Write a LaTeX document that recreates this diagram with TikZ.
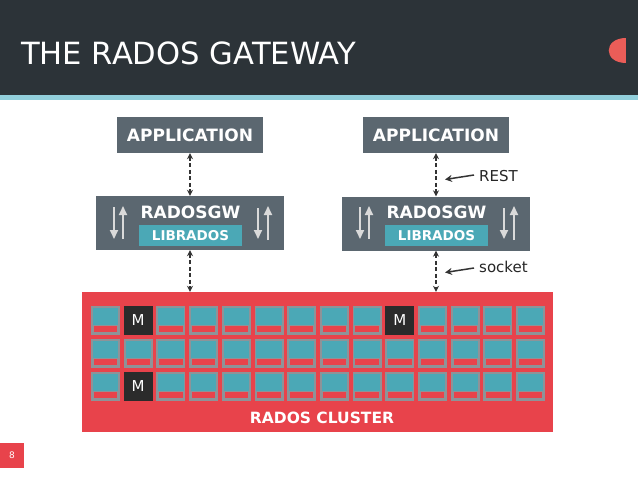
\documentclass[tikz,border=0pt]{standalone}
\usepackage{fontspec}
\setmainfont{DejaVu Sans}
\usetikzlibrary{arrows.meta}
\definecolor{hdr}{HTML}{2C3338}
\definecolor{stripe}{HTML}{92CFDB}
\definecolor{boxgray}{HTML}{5B6770}
\definecolor{teal}{HTML}{4BA8B6}
\definecolor{cred}{HTML}{E8434B}
\definecolor{cellgray}{HTML}{8E9398}
\definecolor{mdark}{HTML}{2B2B2B}
\definecolor{semi}{HTML}{EA5D58}
\definecolor{arrgray}{HTML}{DADADA}
\definecolor{dash}{HTML}{333333}
\tikzset{
  graybox/.style={draw=none, fill=boxgray, inner sep=0pt},
  libbox/.style={draw=none, fill=teal, inner sep=0pt, minimum width=103pt, minimum height=21pt, text=white, font=\fontsize{13.5}{14}\selectfont\bfseries},
  boldlabel/.style={text=white, font=\fontsize{17}{18}\selectfont\bfseries, inner sep=0pt},
  dasharrow/.style={draw=dash, line width=1.5pt, dash pattern=on 4pt off 2.5pt, {Stealth[length=6pt,width=6pt]}-{Stealth[length=6pt,width=6pt]}},
  notearrow/.style={draw=dash, line width=1.5pt, -{Stealth[length=7pt,width=7pt]}},
  inarrow/.style={draw=arrgray, line width=2pt, -{Triangle[length=9pt,width=8pt]}},
  notetext/.style={text=black!85, font=\fontsize{15}{16}\selectfont, anchor=west, inner sep=0pt},
}
\begin{document}
\begin{tikzpicture}[x=1pt,y=-1pt]
\useasboundingbox (0,0) rectangle (638,479);
\fill[white] (0,0) rectangle (638,479);
% header
\fill[hdr] (0,0) rectangle (638,95);
\fill[stripe] (0,95) rectangle (638,100);
\node[anchor=base west, inner sep=0pt, text=white, font=\fontsize{30.6}{32}\selectfont] (title) at (21,64.3) {THE RADOS GATEWAY};
\fill[semi] (626,38) .. controls (603,38) and (603,63) .. (626,63) -- cycle;

% left stack
\node[graybox, minimum width=146pt, minimum height=36pt] (app1) at (190,135) {};
\node[boldlabel] (app1t) at (190,135.5) {APPLICATION};
\node[graybox, minimum width=188pt, minimum height=54pt] (gw1) at (190,223) {};
\node[boldlabel] (gw1t) at (190.5,212.5) {RADOSGW};
\node[libbox] (lib1) at (190.5,235.5) {LIBRADOS};

% right stack
\node[graybox, minimum width=146pt, minimum height=36pt] (app2) at (436,135) {};
\node[boldlabel] (app2t) at (436,135.5) {APPLICATION};
\node[graybox, minimum width=188pt, minimum height=54pt] (gw2) at (436,223.5) {};
\node[boldlabel] (gw2t) at (436.5,212.5) {RADOSGW};
\node[libbox] (lib2) at (436.5,235.5) {LIBRADOS};

% cluster
\node[draw=none, fill=cred, minimum width=471pt, minimum height=140pt, inner sep=0pt] (cluster) at (317.5,362) {};
\foreach \r in {0,1,2} {
  \foreach \c in {0,...,13} {
    \pgfmathsetmacro{\xx}{91+\c*32.7}
    \pgfmathsetmacro{\yy}{306+\r*33}
    \fill[cellgray] (\xx,\yy) rectangle (\xx+29,\yy+28.5);
    \fill[teal] (\xx+1.8,\yy+1.8) rectangle (\xx+27.2,\yy+26.7);
    \fill[cellgray] (\xx+1.8,\yy+19) rectangle (\xx+27.2,\yy+26.7);
    \fill[cred] (\xx+2.8,\yy+20.3) rectangle (\xx+26.2,\yy+25.5);
  }
}
\foreach \c/\r/\nm in {1/0/ma,1/2/mb,9/0/mc} {
  \pgfmathsetmacro{\xx}{91+\c*32.7}
  \pgfmathsetmacro{\yy}{306+\r*33}
  \fill[mdark] (\xx,\yy) rectangle (\xx+29,\yy+28.5);
  \node[text=white, font=\fontsize{15}{16}\selectfont, inner sep=0pt] (\nm) at (\xx+14.5,\yy+14.5) {M};
}
\node[text=white, font=\fontsize{15.5}{16}\selectfont\bfseries, inner sep=0pt] (clt) at (322,417.5) {RADOS CLUSTER};

% dashed connectors
\draw[dasharrow] (app1.south) -- (gw1.north);
\draw[dasharrow] (gw1.south) -- (gw1.south |- cluster.north);
\draw[dasharrow] (app2.south) -- (gw2.north);
\draw[dasharrow] (gw2.south) -- (gw2.south |- cluster.north);

% inner arrows
\foreach \g/\dx in {gw1/0, gw2/246} {
  \coordinate (a1s) at (114+\dx,207);
  \coordinate (a1e) at (114+\dx,239);
  \coordinate (a2s) at (123+\dx,239);
  \coordinate (a2e) at (123+\dx,206);
  \coordinate (a3s) at (258+\dx,208);
  \coordinate (a3e) at (258+\dx,239);
  \coordinate (a4s) at (268+\dx,240);
  \coordinate (a4e) at (268+\dx,206);
  \draw[inarrow] (a1s) -- (a1e);
  \draw[inarrow] (a2s) -- (a2e);
  \draw[inarrow] (a3s) -- (a3e);
  \draw[inarrow] (a4s) -- (a4e);
}

% notes
\coordinate (restA) at (474,175);
\coordinate (restB) at (445,179.5);
\draw[notearrow] (restA) -- (restB);
\node[notetext] (rest) at (479,176) {REST};
\coordinate (sockA) at (474,268);
\coordinate (sockB) at (445,272.5);
\draw[notearrow] (sockA) -- (sockB);
\node[notetext] (sock) at (479,267) {socket};

% page number
\node[fill=cred, minimum width=24pt, minimum height=25pt, inner sep=0pt, text=white, font=\fontsize{9}{10}\selectfont] (pg) at (12,455.5) {8};
\end{tikzpicture}
\end{document}
